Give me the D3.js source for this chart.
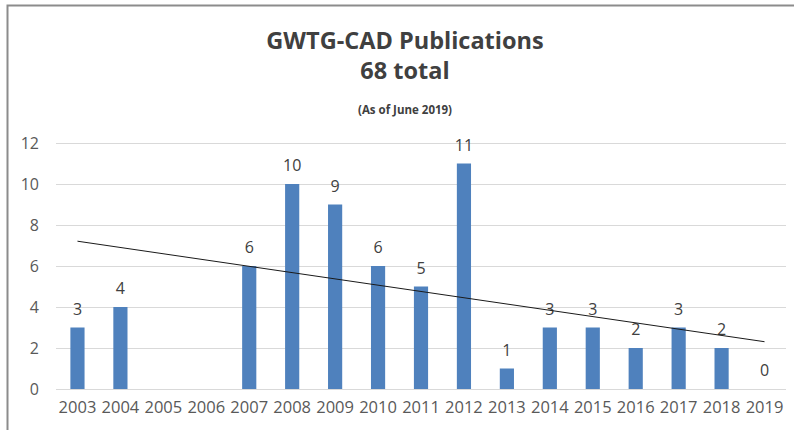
<!DOCTYPE html>
<html>
<head>
<meta charset="utf-8">
<script src="https://cdn.jsdelivr.net/npm/d3@7"></script>
<style>
  body { margin: 0; background: #fff; }
  svg { display: block; font-family: "Open Sans", sans-serif; }
  .grid line { stroke: #d9d9d9; stroke-width: 1; }
  .grid .domain { display: none; }
  .axis .domain, .axis line { display: none; }
</style>
</head>
<body>
<svg width="794" height="430"></svg>
<script>
// chart data
const years = ["2003", "2004", "2005", "2006", "2007", "2008", "2009", "2010", "2011",
  "2012", "2013", "2014", "2015", "2016", "2017", "2018", "2019"];
const publications = [3, 4, null, null, 6, 10, 9, 6, 5, 11, 1, 3, 3, 2, 3, 2, 0];
const yTicks = [0, 2, 4, 6, 8, 10, 12];
const titleLines = ["GWTG-CAD Publications", "68 total"];
const subtitle = "(As of June 2019)";

// define chart dimensions
const margin = { top: 143, right: 8, bottom: 41, left: 56 };
const width = 794 - margin.left - margin.right;
const height = 430 - margin.top - margin.bottom;

const svg = d3.select("svg");

// frame (top and left edges only, as cropped in the original)
svg.append("path")
  .attr("d", "M7.5,430 L7.5,5.5 L794,5.5")
  .attr("fill", "none")
  .attr("stroke", "#8c8c8c")
  .attr("stroke-width", 2);

// titles
svg.selectAll(".title")
  .data(titleLines)
  .enter()
  .append("text")
  .attr("class", "title")
  .attr("x", 405)
  .attr("y", (d, i) => 49 + i * 30)
  .attr("text-anchor", "middle")
  .attr("font-size", 23.5)
  .attr("font-weight", "bold")
  .attr("fill", "#404040")
  .text(d => d);

svg.append("text")
  .attr("x", 405)
  .attr("y", 114)
  .attr("text-anchor", "middle")
  .attr("font-size", 11.5)
  .attr("font-weight", "bold")
  .attr("fill", "#404040")
  .text(subtitle);

const g = svg.append("g")
  .attr("transform", "translate(" + margin.left + "," + margin.top + ")");

// scales
const x = d3.scaleBand()
  .domain(years)
  .range([0, width])
  .paddingInner(0.67)
  .paddingOuter(0.335);
const y = d3.scaleLinear()
  .domain([0, 12])
  .range([height, 0]);

// grid
g.append("g")
  .attr("class", "grid")
  .call(d3.axisLeft(y)
    .tickValues(yTicks)
    .tickSize(-width)
    .tickFormat("")
  );

// axes
const leftAxis = g.append("g")
  .attr("class", "axis")
  .call(d3.axisLeft(y).tickValues(yTicks).tickSize(0).tickPadding(17));
leftAxis.selectAll("text")
  .attr("font-size", 16)
  .attr("fill", "#595959")
  .attr("font-family", "Open Sans, sans-serif");

const bottomAxis = g.append("g")
  .attr("class", "axis")
  .attr("transform", "translate(0," + height + ")")
  .call(d3.axisBottom(x).tickSize(0).tickPadding(12));
bottomAxis.selectAll("text")
  .attr("font-size", 16.5)
  .attr("fill", "#595959")
  .attr("font-family", "Open Sans, sans-serif");

const rows = years.map((d, i) => ({ year: d, value: publications[i] }));
const present = rows.filter(d => d.value !== null);

// bars
g.selectAll("rect")
  .data(present)
  .enter()
  .append("rect")
  .attr("x", d => x(d.year))
  .attr("width", x.bandwidth())
  .attr("y", d => y(d.value))
  .attr("height", d => height - y(d.value))
  .attr("fill", "#4f81bd");

// data labels
g.selectAll(".label")
  .data(present)
  .enter()
  .append("text")
  .attr("class", "label")
  .attr("x", d => x(d.year) + x.bandwidth() / 2)
  .attr("y", d => y(d.value) - 13)
  .attr("text-anchor", "middle")
  .attr("font-size", 16)
  .attr("fill", "#404040")
  .text(d => d.value);

// linear trendline (blank years skipped)
const pts = rows.map((d, i) => [i, d.value]).filter(p => p[1] !== null);
const mx = d3.mean(pts, p => p[0]);
const my = d3.mean(pts, p => p[1]);
const slope = d3.sum(pts, p => (p[0] - mx) * (p[1] - my)) / d3.sum(pts, p => (p[0] - mx) ** 2);
const intercept = my - slope * mx;
const ends = [0, years.length - 1];

g.append("path")
  .datum(ends)
  .attr("fill", "none")
  .attr("stroke", "#1a1a1a")
  .attr("stroke-width", 1)
  .attr("d", d3.line()
    .x(i => x(years[i]) + x.bandwidth() / 2)
    .y(i => y(intercept + slope * i)));
</script>
</body>
</html>
